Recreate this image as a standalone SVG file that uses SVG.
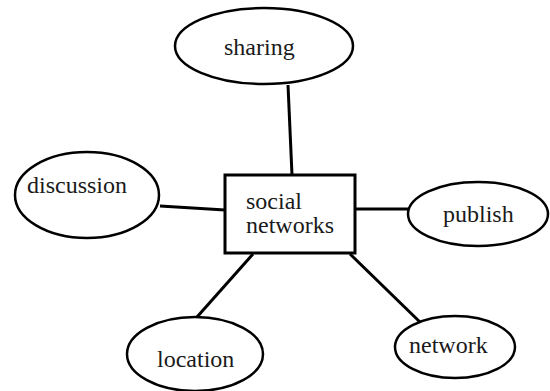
<svg xmlns="http://www.w3.org/2000/svg" width="550" height="391" viewBox="0 0 550 391">
<style>
.n{fill:#fff;stroke:#000;stroke-width:2.5}
.b{fill:#fff;stroke:#000;stroke-width:3}
.c line{stroke:#000;stroke-width:3}
.t{font-family:'Liberation Serif',serif;font-size:24px;fill:#1a1a1a}
</style>
<rect width="550" height="391" fill="#fff"/>
<g id="connectors" class="c">
<line x1="288" y1="85" x2="292" y2="175"/>
<line x1="160" y1="206" x2="225" y2="210"/>
<line x1="355" y1="209" x2="409" y2="209"/>
<line x1="197" y1="317" x2="253" y2="254"/>
<line x1="350" y1="254" x2="423" y2="325"/>
</g>
<g id="sharing"><ellipse class="n" cx="264" cy="46" rx="89" ry="38"/><text class="t" x="224" y="55">sharing</text></g>
<g id="discussion"><ellipse class="n" cx="87" cy="195" rx="72" ry="43"/><text class="t" x="27" y="193">discussion</text></g>
<g id="social-networks"><rect class="b" x="225" y="175" width="130" height="78"/><text class="t" x="246" y="209">social</text><text class="t" x="246" y="233">networks</text></g>
<g id="publish"><ellipse class="n" cx="478" cy="214" rx="70" ry="32"/><text class="t" x="443" y="222">publish</text></g>
<g id="location"><ellipse class="n" cx="195" cy="354" rx="68" ry="37"/><text class="t" x="157" y="367">location</text></g>
<g id="network"><ellipse class="n" cx="455" cy="347" rx="60" ry="31"/><text class="t" x="409" y="353">network</text></g>
</svg>
